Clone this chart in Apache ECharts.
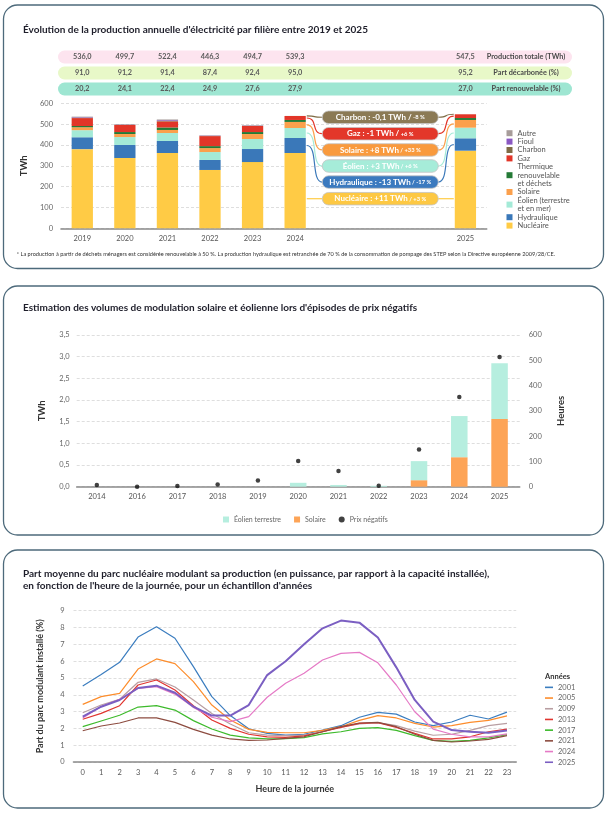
<!DOCTYPE html>
<html><head><meta charset="utf-8">
<script src="https://cdn.jsdelivr.net/npm/echarts/dist/echarts.min.js"></script>
<style>html,body{margin:0;padding:0;background:#fff}#c{width:611px;height:817px}</style>
</head><body><div id="c"></div>
<script>
// ---------- DATA: chart 1 (TWh) ----------
const years1 = ['2019','2020','2021','2022','2023','2024','gap1','gap2','gap3','2025'];
const nucleaire    = [380, 337.5, 361.5, 280, 318, 361.5, null, null, null, 372.5];
const hydraulique  = [57, 62.5, 57.5, 48, 62.5, 72, null, null, null, 59.5];
const eolien       = [34, 38, 38.5, 38, 48, 48, null, null, null, 51];
const solaire      = [14, 14.5, 14.5, 19, 24, 29, null, null, null, 37];
const thermiqueRen = [6, 9.5, 12, 9.5, 9.5, 9.5, null, null, null, 9.3];
const gaz          = [38, 34, 29, 48, 29, 19, null, null, null, 18];
const charbon      = [2, 1.4, 3.8, 1.5, 1.5, 0.3, null, null, null, 0.2];
const fioul        = [2.5, 1.0, 3, 1.3, 1.2, 0, null, null, null, 0];
const autre        = [2.5, 1.3, 2.6, 1.0, 1.0, 0, null, null, null, 0];
const tableYears   = ['2019','2020','2021','2022','2023','2024','2025'];
const productionTotale = [536.0, 499.7, 522.4, 446.3, 494.7, 539.3, 547.5];
const partDecarbonee   = [91.0, 91.2, 91.4, 87.4, 92.4, 95.0, 95.2];
const partRenouvelable = [20.2, 24.1, 22.4, 24.9, 27.6, 27.9, 27.0];
const rowLabels = ['Production totale (TWh)', 'Part décarbonée (%)', 'Part renouvelable (%)'];
const evoNames = ['Charbon : -0,1 TWh /', 'Gaz : -1 TWh /', 'Solaire : +8 TWh', 'Éolien : +3 TWh', 'Hydraulique : -13 TWh', 'Nucléaire : +11 TWh'];
const evoPct   = ['-8 %', '+6 %', '/ +33 %', '/ +6 %', '/ -17 %', '/ +3 %'];
const yTicks1 = [0, 100, 200, 300, 400, 500, 600];

// ---------- DATA: chart 2 ----------
const years2 = ['2014','2016','2017','2018','2019','2020','2021','2022','2023','2024','2025'];
const eolienTerrestre = [0, 0, 0, 0, 0, 0.09, 0.04, 0.02, 0.44, 0.95, 1.29];
const solaireModul    = [0, 0, 0, 0, 0, 0, 0, 0, 0.15, 0.68, 1.56];
const prixNegatifs    = [7, 0, 3, 9, 25, 102, 62, 4, 147, 355, 513];

// ---------- DATA: chart 3 ----------
const hours = ['0','1','2','3','4','5','6','7','8','9','10','11','12','13','14','15','16','17','18','19','20','21','22','23'];
const y2001 = [4.52,5.2,5.93,7.43,8.05,7.36,5.67,3.89,2.76,1.98,1.7,1.6,1.65,1.9,2.16,2.66,2.95,2.85,2.38,2.16,2.38,2.78,2.56,2.97];
const y2005 = [3.43,3.89,4.08,5.53,6.13,5.85,4.78,3.39,2.5,1.94,1.76,1.74,1.74,1.88,2.1,2.48,2.76,2.62,2.3,2.08,2.16,2.36,2.48,2.74];
const y2009 = [2.93,3.39,3.73,4.74,4.94,4.46,3.69,2.89,2.26,1.74,1.6,1.57,1.6,1.8,2.08,2.26,2.34,2.16,1.84,1.59,1.65,1.88,2.16,2.3];
const y2013 = [2.54,2.89,3.35,4.58,4.88,4.28,3.35,2.5,2.0,1.65,1.5,1.47,1.55,1.8,2.06,2.3,2.34,2.06,1.7,1.37,1.37,1.5,1.8,1.96];
const y2017 = [2.1,2.44,2.78,3.27,3.35,3.09,2.46,1.96,1.6,1.43,1.37,1.39,1.45,1.67,1.8,2.0,2.04,1.88,1.57,1.29,1.23,1.29,1.43,1.63];
const y2021 = [1.86,2.14,2.32,2.62,2.62,2.36,1.94,1.6,1.37,1.29,1.31,1.41,1.5,1.8,2.1,2.32,2.36,2.1,1.65,1.29,1.19,1.25,1.35,1.57];
const y2024 = [2.62,3.3,3.73,4.38,4.48,4.04,3.25,2.66,2.4,2.7,3.85,4.68,5.28,6.07,6.46,6.52,5.9,4.58,2.99,1.96,1.65,1.49,1.49,1.67];
const y2025 = [2.7,3.29,3.69,4.4,4.54,4.12,3.29,2.76,2.76,3.39,5.17,5.99,7.0,7.95,8.41,8.29,7.4,5.63,3.69,2.4,1.9,1.8,1.74,1.88];

// ---------- STYLE ----------
const F = 'Lato, "Noto Sans", sans-serif';
const C1 = {
  'Nucléaire':'#ffcb45','Hydraulique':'#3a78b9','Éolien':'#a4ead7','Solaire':'#fba04c',
  'Thermique':'#247a36','Gaz':'#e23528','Charbon':'#7f6c46','Fioul':'#8a58c2','Autre':'#a79c9a'
};
const lineColors = ['#3b7dbf','#fd8d2c','#b89ea2','#e0352f','#3dba2b','#8d4c40','#e57ac6','#7b5fc2'];
const fmt1 = v => v.toFixed(1).replace('.', ',');

const lbl = {fontFamily:F, fontSize:7.5, color:'#666'};
const gridLine = {show:true, lineStyle:{color:'#d6d6d6', type:[3,2], width:0.8}};
const xLine = {show:true, lineStyle:{color:'#8a8a8a', width:1.6}};

const topNames = ['Nucléaire','Hydraulique','Éolien (terrestre\net en mer)','Solaire','Thermique\nrenouvelable\net déchets','Gaz','Charbon','Fioul','Autre'];
const topData = [nucleaire, hydraulique, eolien, solaire, thermiqueRen, gaz, charbon, fioul, autre];
const topColors = [C1['Nucléaire'],C1['Hydraulique'],C1['Éolien'],C1['Solaire'],C1['Thermique'],C1['Gaz'],C1['Charbon'],C1['Fioul'],C1['Autre']];

const series = [];
topNames.forEach((n,i) => series.push({
  name:n, type:'bar', stack:'prod', xAxisIndex:0, yAxisIndex:0, barWidth:'50%',
  data:topData[i], itemStyle:{color:topColors[i]}, emphasis:{disabled:true}
}));
series.push({name:'Solaire ', type:'bar', stack:'mod', xAxisIndex:1, yAxisIndex:1, barWidth:'41%', data:solaireModul, itemStyle:{color:'#fda457'}});
series.push({name:'Éolien terrestre', type:'bar', stack:'mod', xAxisIndex:1, yAxisIndex:1, barWidth:'41%', data:eolienTerrestre, itemStyle:{color:'#b6eedf'}});
series.push({name:'Prix négatifs', type:'scatter', xAxisIndex:1, yAxisIndex:2, data:prixNegatifs, symbolSize:4.5, itemStyle:{color:'#111'}});
const lineYears = ['2001','2005','2009','2013','2017','2021','2024','2025'];
const lineData = [y2001,y2005,y2009,y2013,y2017,y2021,y2024,y2025];
lineYears.forEach((n,i) => series.push({
  name:n, type:'line', xAxisIndex:2, yAxisIndex:3, data:lineData[i], symbol:'none',
  lineStyle:{color:lineColors[i], width: n==='2025'?2:1.2}, itemStyle:{color:lineColors[i]}
}));

const option = {
  animation:false,
  textStyle:{fontFamily:F},
  grid:[
    {left:61, top:103.3, width:425.7, height:125, containLabel:false, outerBoundsMode:'none'},
    {left:76.7, top:335, width:443, height:151.7, containLabel:false, outerBoundsMode:'none'},
    {left:73.5, top:610.7, width:442.7, height:151.3, containLabel:false, outerBoundsMode:'none'}
  ],
  xAxis:[
    {type:'category', gridIndex:0, data:years1, axisTick:{show:false}, axisLine:xLine,
     axisLabel:Object.assign({}, lbl, {color:'#555', margin:6, interval:0, formatter:v => v.indexOf('gap')===0 ? '' : v})},
    {type:'category', gridIndex:1, data:years2, axisTick:{show:false}, axisLine:xLine,
     axisLabel:Object.assign({}, lbl, {color:'#555', margin:6, interval:0})},
    {type:'category', gridIndex:2, data:hours, axisTick:{show:false}, axisLine:xLine,
     axisLabel:Object.assign({}, lbl, {color:'#555', margin:7, interval:0}),
     name:'Heure de la journée', nameLocation:'middle', nameGap:23,
     nameTextStyle:{fontFamily:F, fontSize:9, fontWeight:'bold', color:'#333'}}
  ],
  yAxis:[
    {type:'value', gridIndex:0, min:yTicks1[0], max:yTicks1[yTicks1.length-1], interval:100,
     axisLine:{show:false}, axisTick:{show:false}, splitLine:gridLine, axisLabel:Object.assign({}, lbl, {margin:8}),
     name:'TWh', nameLocation:'middle', nameGap:28, nameRotate:90,
     nameTextStyle:{fontFamily:F, fontSize:9.5, fontWeight:'bold', color:'#333'}},
    {type:'value', gridIndex:1, min:0, max:3.5, interval:0.5,
     axisLine:{show:false}, axisTick:{show:false}, splitLine:gridLine,
     axisLabel:Object.assign({}, lbl, {margin:7, formatter:v => fmt1(v)}),
     name:'TWh', nameLocation:'middle', nameGap:30, nameRotate:90,
     nameTextStyle:{fontFamily:F, fontSize:9.5, fontWeight:'bold', color:'#333'}},
    {type:'value', gridIndex:1, position:'right', min:0, max:600, interval:100,
     axisLine:{show:false}, axisTick:{show:false}, splitLine:{show:false},
     axisLabel:Object.assign({}, lbl, {margin:9}),
     name:'Heures', nameLocation:'middle', nameGap:36, nameRotate:90,
     nameTextStyle:{fontFamily:F, fontSize:9.5, fontWeight:'bold', color:'#333'}},
    {type:'value', gridIndex:2, min:0, max:9, interval:1,
     axisLine:{show:false}, axisTick:{show:false}, splitLine:gridLine, axisLabel:Object.assign({}, lbl, {margin:9}),
     name:'Part du parc modulant installé (%)', nameLocation:'middle', nameGap:29, nameRotate:90,
     nameTextStyle:{fontFamily:F, fontSize:9, fontWeight:'bold', color:'#333'}}
  ],
  legend:[
    {orient:'vertical', left:506.5, top:129, padding:0, itemWidth:6, itemHeight:6, itemGap:0, icon:'rect',
     selectedMode:false, textStyle:{fontFamily:F, fontSize:7.5, lineHeight:8.4, color:'#555'},
     data:['Autre','Fioul','Charbon','Gaz','Thermique\nrenouvelable\net déchets','Solaire','Éolien (terrestre\net en mer)','Hydraulique','Nucléaire']},
    {orient:'horizontal', left:223, top:516, padding:0, itemWidth:6, itemHeight:6, itemGap:13,
     selectedMode:false, textStyle:{fontFamily:F, fontSize:7, color:'#666'},
     data:[{name:'Éolien terrestre', icon:'rect'}, {name:'Solaire ', icon:'rect'}, {name:'Prix négatifs', icon:'circle'}],
     formatter: n => n.trim()},
    {orient:'vertical', left:545, top:682, padding:0, itemWidth:8, itemHeight:1.6, itemGap:0, icon:'rect',
     selectedMode:false, textStyle:{fontFamily:F, fontSize:7.5, lineHeight:10.7, color:'#666'},
     data:lineYears}
  ],
  series:series
};

const chart = echarts.init(document.getElementById('c'));
chart.setOption(option);

// ---------- Graphic overlay (positions derived from the axes) ----------
const g = [];
const px = (i, v) => chart.convertToPixel({gridIndex:0}, [i, v]);
const panelStroke = '#4d6a7b';
[[3.5,5,600,263.5],[3.5,286,600,249],[3.5,550,600,258]].forEach(p => g.push({
  type:'rect', silent:true, z:-5, shape:{x:p[0], y:p[1], width:p[2], height:p[3], r:14},
  style:{fill:'none', stroke:panelStroke, lineWidth:1.3}
}));
function txt(x, y, text, size, weight, color, align, extra) {
  g.push(Object.assign({type:'text', x:x, y:y, silent:true, z:20,
    style:{text:text, fontFamily:F, fontSize:size, fontWeight:weight, fill:color,
           align:align||'left', verticalAlign:'middle', textAlign:align||'left', textVerticalAlign:'middle'}}, extra||{}));
}
txt(23, 30, "Évolution de la production annuelle d'électricité par filière entre 2019 et 2025", 10, 'bold', '#1e1e2a');
txt(23, 307.7, "Estimation des volumes de modulation solaire et éolienne lors d'épisodes de prix négatifs", 10, 'bold', '#1e1e2a');
txt(23, 573.3, "Part moyenne du parc nucléaire modulant sa production (en puissance, par rapport à la capacité installée),", 10, 'bold', '#1e1e2a');
txt(23, 585.7, "en fonction de l'heure de la journée, pour un échantillon d'années", 10, 'bold', '#1e1e2a');
txt(16.7, 254.3, "* La production à partir de déchets ménagers est considérée renouvelable à 50 %. La production hydraulique est retranchée de 70 % de la consommation de pompage des STEP selon la Directive européenne 2009/28/CE.", 5.6, 'normal', '#333');
txt(545, 677, 'Années', 7.5, 'bold', '#333');

// summary table
const rows = [productionTotale, partDecarbonee, partRenouvelable];
const bandColors = ['#fde4ef', '#e8f8c8', '#9ee6d2'];
const rowY = [57, 73, 89];
rows.forEach((r, k) => {
  g.push({type:'rect', silent:true, z:1, shape:{x:58, y:rowY[k]-6.5, width:514, height:13, r:6.5}, style:{fill:bandColors[k]}});
  r.forEach((v, j) => {
    const idx = years1.indexOf(tableYears[j]);
    const x = px(idx, 0)[0];
    txt(x, rowY[k], fmt1(v), 7.3, 'bold', '#5a5a5a', 'center');
  });
  txt(526, rowY[k], rowLabels[k], 7.3, 'bold', '#4a4a4a', 'center');
});

// stacked helpers
function cum(idx, k) { let s = 0; for (let j = 0; j < k; j++) s += topData[j][idx] || 0; return s; }
function mid(idx, k) { return cum(idx, k) + (topData[k][idx] || 0) / 2; }
const i24 = years1.indexOf('2024'), i25 = years1.indexOf('2025');
const catW = px(1, 0)[0] - px(0, 0)[0];
const half = catW * 0.25;
const right24 = px(i24, 0)[0] + half, left25 = px(i25, 0)[0] - half;
const boxCx = px(7, 0)[0], boxW = 116, boxH = 12.5;
const boxVals = [533, 454, 376, 299, 222, 142];
const boxColors = ['#8b7a55', '#e3372a', '#f99a3d', '#a6ecd9', '#3b7abf', '#fdc843'];
const lineCol = [C1['Charbon'], C1['Gaz'], C1['Solaire'], '#a4ead7', C1['Hydraulique'], C1['Nucléaire']];
const seg = ['top', 5, 3, 2, 1, null];
boxVals.forEach((bv, i) => {
  const yb = px(7, bv)[1];
  let y0, y1;
  if (seg[i] === 'top') { y0 = px(i24, cum(i24, 9))[1]; y1 = px(i25, cum(i25, 9))[1]; }
  else if (seg[i] === null) { y0 = yb; y1 = yb; }
  else { y0 = px(i24, mid(i24, seg[i]))[1]; y1 = px(i25, mid(i25, seg[i]))[1]; }
  const bl = boxCx - boxW/2, br = boxCx + boxW/2;
  const x0 = right24 + 1, x3 = left25 - 1;
  const d1 = (bl - x0), d2 = (x3 - br);
  g.push({type:'bezierCurve', silent:true, z:5, shape:{x1:x0, y1:y0, cpx1:x0 + d1*0.75, cpy1:y0, cpx2:bl - d1*0.75, cpy2:yb, x2:bl, y2:yb},
          style:{stroke:lineCol[i], lineWidth:1.2, fill:null}});
  g.push({type:'bezierCurve', silent:true, z:5, shape:{x1:br, y1:yb, cpx1:br + d2*0.75, cpy1:yb, cpx2:x3 - d2*0.75, cpy2:y1, x2:x3, y2:y1},
          style:{stroke:lineCol[i], lineWidth:1.2, fill:null}});
  g.push({type:'rect', silent:true, z:10, shape:{x:bl, y:yb - boxH/2, width:boxW, height:boxH, r:boxH/2},
          style:{fill:boxColors[i], stroke:'#c4c4c4', lineWidth:0.8}});
  g.push({type:'text', silent:true, z:12, x:boxCx, y:yb,
    style:{text:'{a|' + evoNames[i] + '}{b| ' + evoPct[i] + '}', align:'center', verticalAlign:'middle', textAlign:'center', textVerticalAlign:'middle',
      rich:{a:{fontFamily:F, fontSize:8, fontWeight:'bold', fill:'#fff', color:'#fff'}, b:{fontFamily:F, fontSize:5.8, fontWeight:'bold', fill:'#fff', color:'#fff'}}}});
});

chart.setOption({graphic:{elements:g}});
</script></body></html>
